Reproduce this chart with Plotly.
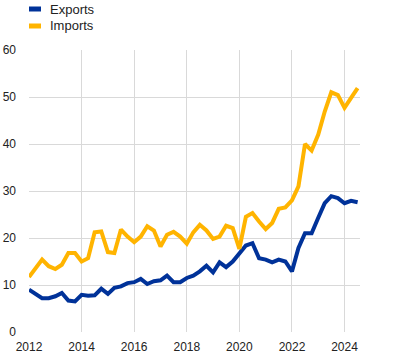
import plotly.graph_objects as go
import pandas as pd

quarters = pd.date_range("2012-01-01", "2024-07-01", freq="QS").strftime("%Y-%m-%d").tolist()

exports = [
    9.0, 8.1, 7.2, 7.2,
    7.6, 8.3, 6.7, 6.5,
    7.9, 7.7, 7.8, 9.2,
    8.1, 9.4, 9.7, 10.4,
    10.6, 11.3, 10.2, 10.8,
    11.0, 12.0, 10.6, 10.6,
    11.5, 12.0, 12.9, 14.1,
    12.7, 14.8, 13.8, 15.0,
    16.8, 18.4, 18.9, 15.7,
    15.4, 14.8, 15.4, 15.0,
    12.9, 17.9, 21.0, 21.0,
    24.3, 27.4, 28.9, 28.5,
    27.4, 27.9, 27.6,
]

imports = [
    11.7, 13.6, 15.4, 14.0,
    13.4, 14.3, 16.8, 16.8,
    15.0, 15.7, 21.2, 21.4,
    17.0, 16.8, 21.8, 20.3,
    19.1, 20.3, 22.5, 21.6,
    18.2, 20.7, 21.3, 20.3,
    18.8, 21.2, 22.8, 21.6,
    19.8, 20.3, 22.6, 22.1,
    17.7, 24.5, 25.3, 23.5,
    21.9, 23.2, 26.2, 26.5,
    28.0, 31.0, 40.0, 38.6,
    42.0, 46.9, 51.0, 50.4,
    47.7, 49.8, 51.9,
]

series_names = ["Exports", "Imports"]
colors = ["#003299", "#FFB400"]

x_tickvals = ["2012-01-01", "2014-01-01", "2016-01-01", "2018-01-01", "2020-01-01", "2022-01-01", "2024-01-01"]
x_ticktext = ["2012", "2014", "2016", "2018", "2020", "2022", "2024"]
y_tickvals = [0, 10, 20, 30, 40, 50, 60]

W, H = 396, 358

fig = go.Figure()
for name, vals, col in zip(series_names, [exports, imports], colors):
    fig.add_trace(go.Scatter(x=quarters, y=vals, mode="lines", name=name,
                             line=dict(color=col, width=4), showlegend=False))

# legend (drawn manually to match the compact swatches)
legend_y_px = [9, 26]
for name, col, py in zip(series_names, colors, legend_y_px):
    fig.add_shape(type="rect", xref="paper", yref="paper",
                  x0=29 / W, x1=41 / W, y0=(H - py - 2.5) / H, y1=(H - py + 2.5) / H,
                  fillcolor=col, line=dict(width=0))
    fig.add_annotation(text=name, xref="paper", yref="paper",
                       x=48 / W, y=(H - py) / H, xanchor="left", yanchor="middle",
                       showarrow=False, font=dict(size=13, color="#222222"))

fig.update_layout(
    width=W, height=H,
    margin=dict(l=0, r=0, t=0, b=0),
    paper_bgcolor="white", plot_bgcolor="white",
    font=dict(family="Arial, Liberation Sans, sans-serif", size=12, color="#222222"),
    showlegend=False,
    xaxis=dict(type="date", range=["2012-01-01", "2024-08-03"],
               domain=[29 / W, 360 / W], automargin=False,
               tickvals=x_tickvals, ticktext=x_ticktext,
               showgrid=True, gridcolor="#d9d9d9", gridwidth=1,
               zeroline=False, showline=False, ticks="", tickfont=dict(size=12),
               ticklabelstandoff=6),
    yaxis=dict(range=[0, 60], tickvals=y_tickvals,
               domain=[(H - 332) / H, (H - 50) / H], automargin=False,
               showgrid=True, gridcolor="#d9d9d9", gridwidth=1,
               zeroline=False, showline=False, ticks="", tickfont=dict(size=12),
               ticklabelstandoff=12),
)

fig.write_html("out.html", config={"displayModeBar": False},
               post_script="document.body.style.margin='0';")
